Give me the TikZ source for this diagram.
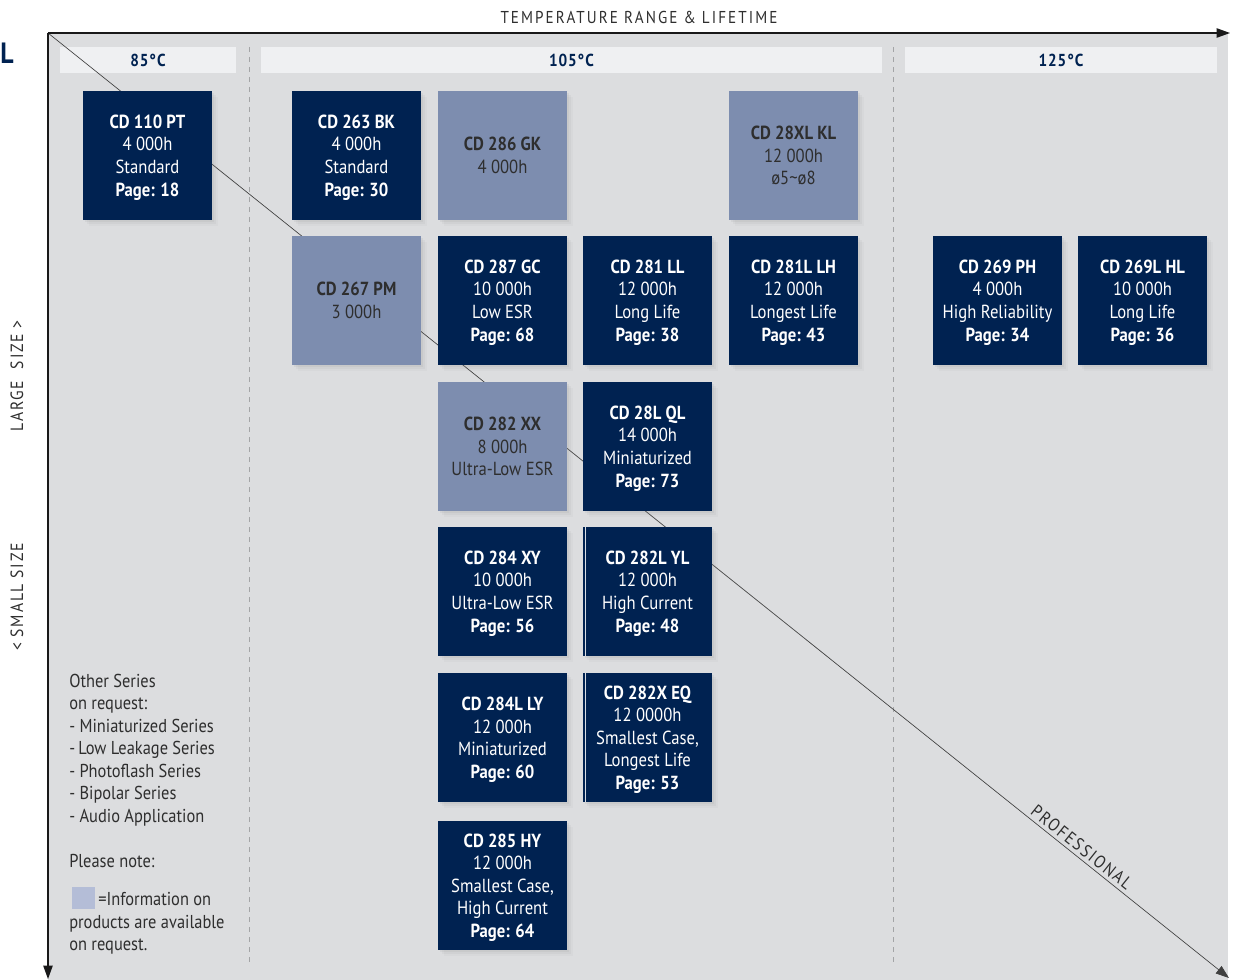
\documentclass[tikz,border=0pt]{standalone}
\usepackage{fontspec}
\setmainfont{PT Sans}[FakeStretch=0.88]
\usetikzlibrary{shadows,arrows.meta}
\definecolor{navy}{HTML}{002251}
\definecolor{lightbox}{HTML}{7D8DAF}
\definecolor{bggray}{HTML}{DCDDDF}
\definecolor{hdrfill}{HTML}{EFF0F2}
\definecolor{txtgray}{HTML}{2E2E2E}
\definecolor{legsq}{HTML}{B4BDD7}
\definecolor{dashgray}{HTML}{A3A4A6}
\tikzset{
  boxbase/.style={minimum width=96.75pt, minimum height=96.75pt, inner sep=0pt, align=center,
     font=\fontsize{14.2}{16.9}\selectfont,
     drop shadow={shadow xshift=1.5pt,shadow yshift=-1.5pt,opacity=0.10},
     drop shadow={shadow xshift=3pt,shadow yshift=-3pt,opacity=0.07},
     drop shadow={shadow xshift=4.5pt,shadow yshift=-4.5pt,opacity=0.05}},
  darkbox/.style={boxbase, fill=navy, text=white, text depth=0pt},
  lightbx/.style={boxbase, fill=lightbox, text=txtgray},
  hdrbar/.style={fill=hdrfill, minimum height=19.5pt, inner sep=0pt, text=navy,
     font=\fontsize{13}{14}\selectfont\bfseries\addfontfeature{LetterSpace=5}},
  axisline/.style={line width=0.9pt, draw=black!90, -{Triangle[length=10pt,width=7pt]}},
  diagline/.style={line width=0.5pt, draw=black!75, -{Triangle[length=10pt,width=7pt]}},
  dashline/.style={draw=dashgray, line width=0.7pt, dash pattern=on 4pt off 3.5pt},
  legtxt/.style={anchor=base west, inner sep=0pt, text=txtgray, font=\fontsize{14}{16}\selectfont},
  sidetxt/.style={rotate=90, inner sep=0pt, text=txtgray, font=\fontsize{13.3}{15}\selectfont\addfontfeature{LetterSpace=10}},
  stripe/.style={draw=white!85!navy, line width=0.9pt}
}
\begin{document}
\begin{tikzpicture}[x=0.75pt,y=-0.75pt]
\useasboundingbox (0,0) rectangle (1237,980);
\fill[bggray] (48,33) rectangle (1228,980);

% headers
\node[hdrbar, minimum width=132pt] (h85) at (148,60) {85°C};
\node[hdrbar, minimum width=465.75pt] (h105) at (571.5,60) {105°C};
\node[hdrbar, minimum width=234pt] (h125) at (1061,60) {125°C};

% dashed separators
\coordinate (d1t) at (249,47); \coordinate (d1b) at (249,962);
\coordinate (d2t) at (893,47); \coordinate (d2b) at (893,962);
\draw[dashline] (d1t) -- (d1b);
\draw[dashline] (d2t) -- (d2b);

% axes coordinates
\coordinate (o) at (48,33);
\coordinate (xe) at (1230,33);
\coordinate (ye) at (48,979);
\coordinate (de) at (1229,978);

% diagonal
\draw[diagline] (o) -- (de) node[pos=0.870, sloped, above=2.5pt, inner sep=0pt, text=txtgray,
   font=\fontsize{13.3}{15}\selectfont\addfontfeature{LetterSpace=10}] (prof) {PROFESSIONAL};

% boxes row 1
\node[darkbox] (b1) at (147.5,155.5) {{\bfseries CD 110 PT}\\4 000h\\Standard\\{\bfseries Page: 18}};
\node[darkbox] (b2) at (356.5,155.5) {{\bfseries CD 263 BK}\\4 000h\\Standard\\{\bfseries Page: 30}};
\node[lightbx] (b3) at (502.5,155.5) {{\bfseries CD 286 GK}\\4 000h};
\node[lightbx] (b4) at (793.5,155.5) {{\bfseries CD 28XL KL}\\12 000h\\ø5\textasciitilde ø8};
% row 2
\node[lightbx] (b5) at (356.5,300.5) {{\bfseries CD 267 PM}\\3 000h};
\node[darkbox] (b6) at (502.5,300.5) {{\bfseries CD 287 GC}\\10 000h\\Low ESR\\{\bfseries Page: 68}};
\node[darkbox] (b7) at (647.5,300.5) {{\bfseries CD 281 LL}\\12 000h\\Long Life\\{\bfseries Page: 38}};
\node[darkbox] (b8) at (793.5,300.5) {{\bfseries CD 281L LH}\\12 000h\\Longest Life\\{\bfseries Page: 43}};
\node[darkbox] (b9) at (997.5,300.5) {{\bfseries CD 269 PH}\\4 000h\\High Reliability\\{\bfseries Page: 34}};
\node[darkbox] (b10) at (1142.5,300.5) {{\bfseries CD 269L HL}\\10 000h\\Long Life\\{\bfseries Page: 36}};
% row 3
\node[lightbx] (b11) at (502.5,446.5) {{\bfseries CD 282 XX}\\8 000h\\Ultra-Low ESR};
\node[darkbox] (b12) at (647.5,446.5) {{\bfseries CD 28L QL}\\14 000h\\Miniaturized\\{\bfseries Page: 73}};
% row 4
\node[darkbox] (b13) at (502.5,591.5) {{\bfseries CD 284 XY}\\10 000h\\Ultra-Low ESR\\{\bfseries Page: 56}};
\node[darkbox] (b14) at (647.5,591.5) {{\bfseries CD 282L YL}\\12 000h\\High Current\\{\bfseries Page: 48}};
% row 5
\node[darkbox] (b15) at (502.5,737.5) {{\bfseries CD 284L LY}\\12 000h\\Miniaturized\\{\bfseries Page: 60}};
\node[darkbox] (b16) at (647.5,737.5) {{\bfseries CD 282X EQ}\\12 0000h\\Smallest Case,\\Longest Life\\{\bfseries Page: 53}};
% row 6
\node[darkbox] (b17) at (502.5,885.5) {{\bfseries CD 285 HY}\\12 000h\\Smallest Case,\\High Current\\{\bfseries Page: 64}};

% stripes on two boxes
\draw[stripe] ([xshift=2.3pt]b14.north west) -- ([xshift=2.3pt]b14.south west);
\draw[stripe] ([xshift=2.3pt]b16.north west) -- ([xshift=2.3pt]b16.south west);

% axes
\draw[axisline] (o) -- (xe);
\draw[axisline] (o) -- (ye);

% titles
\node[inner sep=0pt, text=txtgray, font=\fontsize{12.9}{14}\selectfont\addfontfeature{LetterSpace=12}] (title) at (639,17) {TEMPERATURE RANGE \& LIFETIME};
\node[anchor=west, inner sep=0pt, text=navy, font=\fontsize{22}{24}\selectfont\bfseries] (lmark) at (0,53) {L};
\node[sidetxt] (large) at (17,376) {LARGE\ \ SIZE >};
\node[sidetxt] (small) at (17,597) {< SMALL SIZE};

% legend
\node[legtxt] (l1) at (69,687) {Other Series};
\node[legtxt] (l2) at (69,709.5) {on request:};
\node[legtxt] (l3) at (69,732) {- Miniaturized Series};
\node[legtxt] (l4) at (69,754.5) {-\,Low Leakage Series};
\node[legtxt] (l5) at (69,777) {- Photoflash Series};
\node[legtxt] (l6) at (69,799.5) {- Bipolar Series};
\node[legtxt] (l7) at (69,822) {- Audio Application};
\node[legtxt] (l8) at (69,867) {Please note:};
\node[fill=legsq, minimum width=17.25pt, minimum height=16.5pt, inner sep=0pt] (sq) at (83.5,898) {};
\node[legtxt] (l9) at (98,905) {=Information on};
\node[legtxt] (l10) at (69,928) {products are available};
\node[legtxt] (l11) at (69,950) {on request.};
\end{tikzpicture}
\end{document}
